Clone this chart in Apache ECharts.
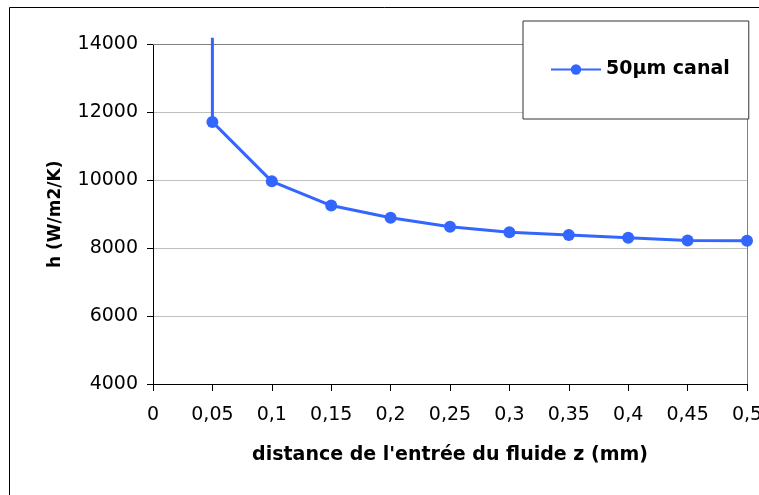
<!DOCTYPE html>
<html>
<head>
<meta charset="utf-8">
<script src="https://cdn.jsdelivr.net/npm/echarts@6/dist/echarts.min.js"></script>
<style>
html,body{margin:0;padding:0;background:#fff;}
#chart{width:759px;height:495px;}
</style>
</head>
<body>
<div id="chart"></div>
<script>
// Data
var zValues = [0.05, 0.05, 0.10, 0.15, 0.20, 0.25, 0.30, 0.35, 0.40, 0.45, 0.50];
var hValues = [14200, 11720, 9970, 9255, 8895, 8635, 8470, 8390, 8310, 8225, 8220];
var seriesName = '50µm canal';
var xTitle = "distance de l'entrée du fluide z (mm)";
var yTitle = 'h (W/m2/K)';
var xMin = 0, xMax = 0.5, xStep = 0.05;
var yMin = 4000, yMax = 14000, yStep = 2000;

var seriesData = zValues.map(function (z, i) {
  var item = { value: [z, hValues[i]] };
  if (i === 0) { item.symbol = 'none'; }
  return item;
});

var FONT = 'DejaVu Sans';
var chart = echarts.init(document.getElementById('chart'), null, { renderer: 'canvas' });
chart.setOption({
  animation: false,
  backgroundColor: '#ffffff',
  textStyle: { fontFamily: FONT },
  graphic: [{
    type: 'rect',
    shape: { x: 9.5, y: 7.5, width: 800, height: 600 },
    style: { fill: 'none', stroke: '#000', lineWidth: 1 },
    z: -10, silent: true
  }],
  grid: { left: 153, right: 12, top: 44.5, bottom: 111, containLabel: false, outerBoundsMode: 'none' },
  legend: {
    left: 523, top: 21,
    padding: [39, 19, 40, 27],
    backgroundColor: '#fff',
    borderColor: '#333',
    borderWidth: 1,
    itemWidth: 50, itemHeight: 13,
    textStyle: { fontFamily: FONT, fontWeight: 'bold', fontSize: 19, color: '#000' },
    data: [seriesName],
    z: 10
  },
  xAxis: [{
    type: 'value', min: xMin, max: xMax, interval: xStep,
    position: 'bottom',
    name: xTitle, nameLocation: 'middle', nameGap: 62,
    nameTextStyle: { fontFamily: FONT, fontWeight: 'bold', fontSize: 19, color: '#000' },
    axisLine: { show: true, onZero: false, lineStyle: { color: '#000', width: 1 } },
    axisTick: { show: true, inside: false, length: 7, lineStyle: { color: '#000' } },
    axisLabel: {
      fontFamily: FONT, fontSize: 19, color: '#000', margin: 22,
      formatter: function (v) { return String(+v.toFixed(2)).replace('.', ','); }
    },
    splitLine: { show: false }
  }, {
    type: 'value', min: xMin, max: xMax, position: 'top',
    axisLine: { show: true, onZero: false, lineStyle: { color: '#808080', width: 1 } },
    axisTick: { show: false }, axisLabel: { show: false }, splitLine: { show: false }
  }],
  yAxis: [{
    type: 'value', min: yMin, max: yMax, interval: yStep,
    position: 'left',
    name: yTitle, nameLocation: 'middle', nameGap: 89, nameRotate: 90,
    nameTextStyle: { fontFamily: FONT, fontWeight: 'bold', fontSize: 17, color: '#000' },
    axisLine: { show: true, onZero: false, lineStyle: { color: '#000', width: 1 } },
    axisTick: { show: true, inside: false, length: 6, lineStyle: { color: '#000' } },
    axisLabel: {
      fontFamily: FONT, fontSize: 19, color: '#000', margin: 15,
      formatter: function (v) { return String(v); }
    },
    splitLine: { show: true, lineStyle: { color: '#c0c0c0', width: 1 } }
  }, {
    type: 'value', min: yMin, max: yMax, position: 'right',
    axisLine: { show: true, onZero: false, lineStyle: { color: '#808080', width: 1 } },
    axisTick: { show: false }, axisLabel: { show: false }, splitLine: { show: false }
  }],
  series: [{
    name: seriesName,
    type: 'line',
    xAxisIndex: 0, yAxisIndex: 0,
    data: seriesData,
    clip: false,
    symbol: 'circle', symbolSize: 12,
    showAllSymbol: true,
    lineStyle: { color: '#3366ff', width: 3 },
    itemStyle: { color: '#3366ff' },
    z: 5
  }]
});
</script>
</body>
</html>
